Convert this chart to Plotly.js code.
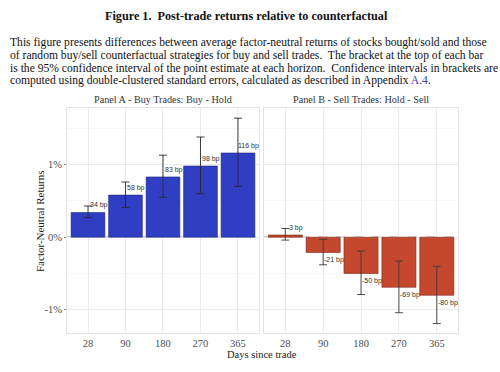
<!DOCTYPE html>
<html>
<head>
<meta charset="utf-8">
<script src="https://cdn.plot.ly/plotly-3.0.1.min.js"></script>
<style>
html,body{margin:0;padding:0;background:#fff;}
#chart{width:500px;height:372px;}
</style>
</head>
<body>
<div id="chart"></div>
<script>
// ---- data ----
var days = ["28", "90", "180", "270", "365"];
var buyReturns = [0.34, 0.58, 0.83, 0.98, 1.16];       // percent
var buyCIlow   = [0.27, 0.41, 0.55, 0.60, 0.70];
var buyCIhigh  = [0.43, 0.76, 1.13, 1.38, 1.64];
var buyLabels  = ["34 bp", "58 bp", "83 bp", "98 bp", "116 bp"];

var sellReturns = [0.03, -0.21, -0.50, -0.69, -0.80];
var sellCIlow   = [-0.04, -0.38, -0.79, -1.04, -1.19];
var sellCIhigh  = [0.12, -0.03, -0.19, -0.33, -0.40];
var sellLabels  = ["3 bp", "-21 bp", "-50 bp", "-69 bp", "-80 bp"];

var panelTitles = ["Panel A - Buy Trades: Buy - Hold", "Panel B - Sell Trades: Hold - Sell"];
var figTitle = "<b>Figure 1.  Post-trade returns relative to counterfactual</b>";
var captionLines = [
  "This figure presents differences between average factor-neutral returns of stocks bought/sold and those",
  "of random buy/sell counterfactual strategies for buy and sell trades.  The bracket at the top of each bar",
  "is the 95% confidence interval of the point estimate at each horizon.  Confidence intervals in brackets are",
  "computed using double-clustered standard errors, calculated as described in Appendix <span style=\"color:#3b3bb0\">A.4</span>."
];
var yTickVals = [-1, 0, 1];
var yTickText = ["-1%", "0%", "1%"];
var yTitle = "Factor-Neutral Returns";
var xTitle = "Days since trade";

// ---- geometry helpers (pixel -> paper) ----
var W = 500, H = 372, ML = 67, MR = 42, MT = 108, MB = 39;
var PW = W - ML - MR, PH = H - MT - MB;
function px2x(px){ return (px - ML) / PW; }
function py2y(py){ return (H - MB - py) / PH; }

// ---- traces ----
function errPlus(v, hi){ return v.map(function(d,i){return hi[i]-d;}); }
function errMinus(v, lo){ return v.map(function(d,i){return d-lo[i];}); }

var traces = [
  {type:"bar", x:days, y:buyReturns, xaxis:"x", yaxis:"y", width:0.9,
   marker:{color:"#2f3ec2", line:{color:"#1e2a80", width:0.6}},
   error_y:{type:"data", symmetric:false, array:errPlus(buyReturns,buyCIhigh), arrayminus:errMinus(buyReturns,buyCIlow),
            color:"#2a2a2a", thickness:0.9, width:4},
   hoverinfo:"none"},
  {type:"bar", x:days, y:sellReturns, xaxis:"x2", yaxis:"y2", width:0.9,
   marker:{color:"#c4472e", line:{color:"#7a2a1a", width:0.6}},
   error_y:{type:"data", symmetric:false, array:errPlus(sellReturns,sellCIhigh), arrayminus:errMinus(sellReturns,sellCIlow),
            color:"#3a3a3a", thickness:0.9, width:4},
   hoverinfo:"none"}
];

// ---- annotations ----
var ann = [];
var serif = "Liberation Serif, Times New Roman, serif";
var sans = "Liberation Sans, Arial, sans-serif";
ann.push({xref:"paper", yref:"paper", x:px2x(246), y:py2y(16), yanchor:"middle", xanchor:"center", showarrow:false,
  text:figTitle, font:{family:serif, size:12.2, color:"#111"}});
var capY = [42.7, 55.3, 68.3, 81];
captionLines.forEach(function(t,i){
  ann.push({xref:"paper", yref:"paper", x:px2x(8), xanchor:"left", y:py2y(capY[i]), yanchor:"middle",
    showarrow:false, text:t, font:{family:serif, size:11.6, color:"#111"}});
});
days.forEach(function(d,i){
  ann.push({xref:"x", yref:"y", x:i, y:buyReturns[i] + 0.1, xshift:11, showarrow:false,
    text:buyLabels[i], font:{family:sans, size:7, color:"#333"}});
  var s = sellReturns[i] >= 0 ? 0.1 : -0.1;
  ann.push({xref:"x2", yref:"y2", x:i, y:sellReturns[i] + s, xshift:11, showarrow:false,
    text:sellLabels[i], font:{family:sans, size:7, color:"#333"}});
});
ann.push({xref:"x", yref:"paper", x:2, y:1, yanchor:"bottom", yshift:1, showarrow:false,
  text:panelTitles[0], font:{family:serif, size:10.2, color:"#333"}});
ann.push({xref:"x2", yref:"paper", x:2, y:1, yanchor:"bottom", yshift:1, showarrow:false,
  text:panelTitles[1], font:{family:serif, size:10.2, color:"#333"}});
ann.push({xref:"paper", yref:"paper", x:px2x(40), y:py2y(221), xanchor:"center", yanchor:"middle", textangle:-90,
  showarrow:false, text:yTitle, font:{family:serif, size:11, color:"#222"}});
ann.push({xref:"paper", yref:"paper", x:px2x(262), y:py2y(354), xanchor:"center", yanchor:"middle",
  showarrow:false, text:xTitle, font:{family:serif, size:10.5, color:"#222"}});

var yRange = [-1.32, 1.78];
var axisCommon = {
  type:"category", range:[-0.56, 4.56], showgrid:true, gridcolor:"#ebebeb", gridwidth:1,
  showline:true, mirror:true, linecolor:"#e4e4e4", linewidth:1, zeroline:false,
  tickfont:{family:serif, size:10.5, color:"#4d4d4d"}, ticks:"", fixedrange:true
};
var yCommon = {
  range:yRange, tickvals:yTickVals, ticktext:yTickText, showgrid:true, gridcolor:"#ebebeb",
  minor:{tickvals:[-0.5,0.5,1.5], showgrid:true, gridcolor:"#f4f4f4", gridwidth:0.6},
  showline:true, mirror:true, linecolor:"#e4e4e4", zeroline:false,
  tickfont:{family:serif, size:10.5, color:"#4d4d4d"}, ticks:"outside", ticklen:2, tickcolor:"#888"
};

var layout = {
  width:W, height:H, paper_bgcolor:"#fff", plot_bgcolor:"#fff",
  margin:{l:ML, r:MR, t:MT, b:MB}, showlegend:false, bargap:0.1,
  xaxis:Object.assign({}, axisCommon, {domain:[0, 0.491], anchor:"y"}),
  xaxis2:Object.assign({}, axisCommon, {domain:[0.504, 1], anchor:"y2"}),
  yaxis:Object.assign({}, yCommon, {domain:[0,1], anchor:"x"}),
  yaxis2:Object.assign({}, yCommon, {domain:[0,1], anchor:"x2", showticklabels:false, ticks:""}),
  shapes:[
    {type:"line", xref:"x domain", yref:"y", x0:0, x1:1, y0:0, y1:0, layer:"below", line:{color:"#555", width:0.8, dash:"dash"}},
    {type:"line", xref:"x2 domain", yref:"y2", x0:0, x1:1, y0:0, y1:0, layer:"below", line:{color:"#555", width:0.8, dash:"dash"}}
  ],
  annotations:ann
};
Plotly.newPlot("chart", traces, layout, {displayModeBar:false, staticPlot:true});
</script>
</body>
</html>
